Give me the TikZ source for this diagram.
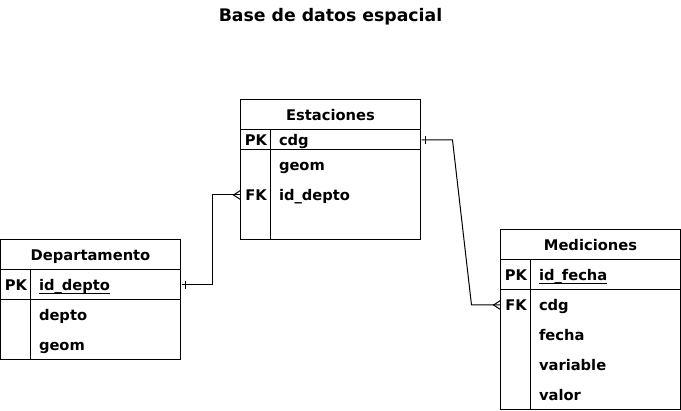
\documentclass[tikz,border=0pt]{standalone}
\usepackage{fontspec}
\setmainfont{DejaVu Sans}
\usetikzlibrary{decorations.markings}

\newcommand{\pkline}[1]{\setbox0\hbox{#1}\rlap{\rule[-3.5pt]{\wd0}{1pt}}\box0}

\begin{document}
\begin{tikzpicture}[x=1pt,y=-1pt,line width=1pt,
    every node/.style={font=\fontsize{14.7}{17}\selectfont\bfseries,inner sep=0pt,text height=14pt,text depth=2pt},
    keycell/.style={minimum width=30pt,minimum height=#1,anchor=west},
    fieldcell/.style={text width=134pt,inner xsep=8pt,minimum height=#1,anchor=west,align=left},
    onemany/.style={postaction={decorate,decoration={markings,
        mark=at position 4pt with {\draw (0pt,-4pt) -- (0pt,4pt);},
        mark=at position 1 with {\draw (0pt,4.5pt) -- (-7pt,0pt) -- (0pt,-4.5pt);}}}}]
    \useasboundingbox (-0.5,0) rectangle (680.5,411);

    \node[font=\fontsize{17.3}{20}\selectfont\bfseries] (title) at (330,16) {Base de datos espacial};

    % Estaciones
    \draw (240,100) rectangle (420,240);
    \draw (240,130) -- (420,130);
    \draw (240,150) -- (420,150);
    \draw (270,130) -- (270,240);
    \node (est) at (330,115) {Estaciones};
    \node[keycell=20pt] (est-k1) at (240,140) {PK};
    \node[fieldcell=20pt] (est-cdg) at (270,140) {cdg};
    \node[fieldcell=30pt] (est-geom) at (270,165) {geom};
    \node[keycell=30pt] (est-k3) at (240,195) {FK};
    \node[fieldcell=30pt] (est-depto) at (270,195) {id\_depto};

    % Departamento
    \draw (0,240) rectangle (180,360);
    \draw (0,270) -- (180,270);
    \draw (0,300) -- (180,300);
    \draw (30,270) -- (30,360);
    \node (dep) at (90,255) {Departamento};
    \node[keycell=30pt] (dep-k1) at (0,285) {PK};
    \node[fieldcell=30pt] (dep-id) at (30,285) {\pkline{id\_depto}};
    \node[fieldcell=30pt] (dep-depto) at (30,315) {depto};
    \node[fieldcell=30pt] (dep-geom) at (30,345) {geom};

    % Mediciones
    \draw (500,230) rectangle (680,410);
    \draw (500,260) -- (680,260);
    \draw (500,290) -- (680,290);
    \draw (530,260) -- (530,410);
    \node (med) at (590,245) {Mediciones};
    \node[keycell=30pt] (med-k1) at (500,275) {PK};
    \node[fieldcell=30pt] (med-id) at (530,275) {\pkline{id\_fecha}};
    \node[keycell=30pt] (med-k2) at (500,305) {FK};
    \node[fieldcell=30pt] (med-cdg) at (530,305) {cdg};
    \node[fieldcell=30pt] (med-fecha) at (530,335) {fecha};
    \node[fieldcell=30pt] (med-var) at (530,365) {variable};
    \node[fieldcell=30pt] (med-valor) at (530,395) {valor};

    % relaciones
    \draw[onemany] (dep-id.east) -- ++(31,0) |- (est-k3.west);
    \draw[onemany] (est-cdg.east) -- ++(31,0) -- ([xshift=-29pt]med-k2.west) -- (med-k2.west);
\end{tikzpicture}
\end{document}
